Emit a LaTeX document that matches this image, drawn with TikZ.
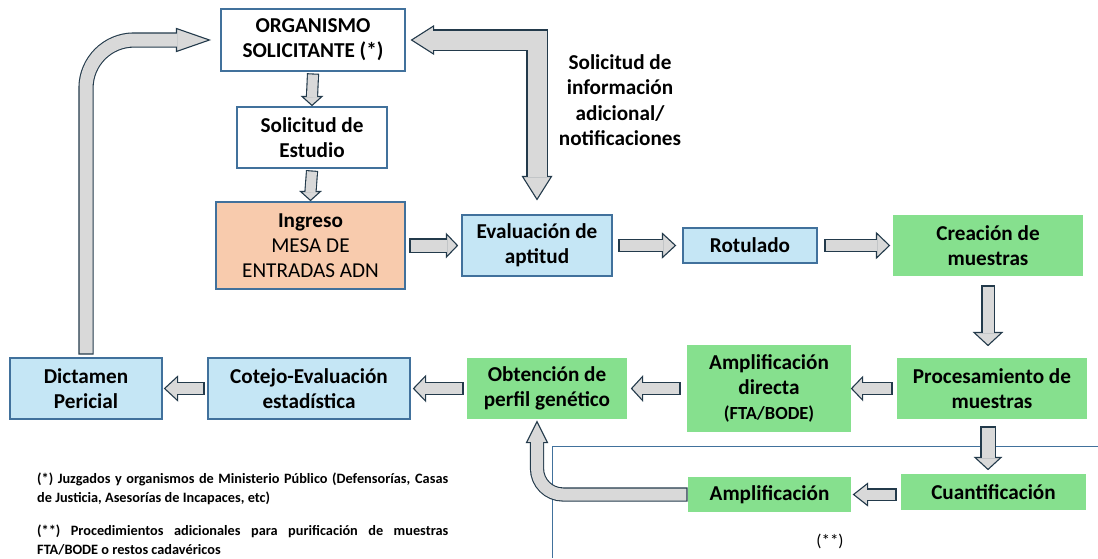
\documentclass[tikz,border=0pt]{standalone}
\usepackage{fontspec}
\setmainfont{Carlito}
\usetikzlibrary{calc}
\definecolor{bord}{RGB}{65,113,156}
\definecolor{lblue}{RGB}{197,230,245}
\definecolor{salmon}{RGB}{248,203,173}
\definecolor{grn}{RGB}{134,224,142}
\definecolor{agray}{RGB}{217,217,217}
\definecolor{adark}{RGB}{35,58,75}
\tikzset{
 box/.style={draw=bord, line width=1.1pt, align=center, inner sep=0pt, font=\fontsize{21.2}{25}\selectfont\bfseries, text=black},
 wbox/.style={box, fill=white},
 bbox/.style={box, fill=lblue},
 sbox/.style={box, fill=salmon},
 gbox/.style={box, draw=none, fill=grn},
 ahead/.style={fill=agray, draw=adark, line width=1.1pt, line join=miter},
 foot/.style={anchor=base west, inner sep=0pt, font=\fontsize{14.3}{19}\selectfont\bfseries},
}
\newcommand\barrow[5]{%
  \path (#1) coordinate (bat) (#2) coordinate (bah) (#3) coordinate (bap);
  \draw[adark, line width=#4pt+2.2pt, shorten <=-1.1pt] (bat) -- (bah);
  \draw[ahead] (bap) -- ($(bah)!#5pt!90:(bap)$) -- ($(bah)!#5pt!-90:(bap)$) -- cycle;
  \draw[agray, line width=#4pt, shorten >=-1pt] (bat) -- (bah);
}
\newcommand\carrow[7]{%
  \path (#1) coordinate (bat) (#2) coordinate (bac) (#3) coordinate (bah) (#4) coordinate (bap);
  \draw[adark, line width=#5pt+2.2pt, shorten <=-1.1pt, rounded corners=#7pt] (bat) -- (bac) -- (bah);
  \draw[ahead] (bap) -- ($(bah)!#6pt!90:(bap)$) -- ($(bah)!#6pt!-90:(bap)$) -- cycle;
  \draw[agray, line width=#5pt, shorten >=-1pt, rounded corners=#7pt] (bat) -- (bac) -- (bah);
}
\begin{document}
\begin{tikzpicture}[x=1pt, y=-1pt]
\useasboundingbox (0,0) rectangle (1098,558);
% (**) frame
\draw[bord, line width=1pt] (552,558) coordinate (fbl) -- (552,446) coordinate (ftl) -- (1098,446) coordinate (ftr);
\node at (830,541) (dstar) {\fontsize{17}{19}\selectfont (**)};

% boxes
\node[wbox, minimum width=184pt, minimum height=62pt] (org) at (313,40) {ORGANISMO\\SOLICITANTE (*)};
\node[wbox, minimum width=150pt, minimum height=61pt] (sol) at (312,137.5) {Solicitud de\\Estudio};
\node[sbox, minimum width=189pt, minimum height=87pt] (ing) at (310.5,245.5) {Ingreso\\\mdseries MESA DE\\\mdseries ENTRADAS ADN};
\node[bbox, minimum width=150pt, minimum height=61pt] (eval) at (537,245.5) {Evaluación de\\aptitud};
\node[bbox, minimum width=134pt, minimum height=35pt] (rot) at (750,245.5) {Rotulado};
\node[gbox, minimum width=190pt, minimum height=61pt] (crea) at (988,245.5) {Creación de\\muestras};
\node[gbox, minimum width=190pt, minimum height=61pt] (proc) at (992,388.5) {Procesamiento de\\muestras};
\node[gbox, minimum width=164pt, minimum height=87pt] (ampd) at (769,388.5) {Amplificación\\directa\\{\fontsize{18.5}{22}\selectfont (FTA/BODE)}};
\node[gbox, minimum width=160pt, minimum height=61pt] (obt) at (547,388.5) {Obtención de\\perfil genético};
\node[bbox, minimum width=202pt, minimum height=61pt] (cot) at (309,388.5) {Cotejo-Evaluación\\estadística};
\node[bbox, minimum width=152pt, minimum height=61pt] (dic) at (86,388.5) {Dictamen\\Pericial};
\node[gbox, minimum width=185pt, minimum height=36pt] (cuant) at (993.5,492) {Cuantificación};
\node[gbox, minimum width=163pt, minimum height=35pt] (amp) at (769.5,494.5) {Amplificación};

% label
\node[align=center, inner sep=0pt, font=\fontsize{21.2}{25.3}\selectfont\bfseries] (lbl) at (620,100) {Solicitud de\\información\\adicional/\\notificaciones};

% footnotes
\node[foot] (f1a) at (37,483) {\makebox[411pt][s]{(*) Juzgados y organismos de Ministerio Público (Defensorías, Casas}};
\node[foot] (f1b) at (37,502) {de Justicia, Asesorías de Incapaces, etc)};
\node[foot] (f2a) at (37,535) {\makebox[411pt][s]{(**) Procedimientos adicionales para purificación de muestras}};
\node[foot] (f2b) at (37,554) {FTA/BODE o restos cadavéricos};

% straight arrows
\barrow{$(org.south)+(0,3)$}{$(sol.north)+(0,-10)$}{$(sol.north)+(0,-1)$}{10}{10}
\barrow{$(sol.south)+(0,3)$}{$(ing.north)+(0,-10)$}{$(ing.north)+(0,-1)$}{10}{10}
\barrow{$(ing.east)+(5,0)$}{$(eval.west)+(-15,0)$}{$(eval.west)+(-4,0)$}{12}{11.5}
\barrow{$(eval.east)+(7,0)$}{$(rot.west)+(-20,0)$}{$(rot.west)+(-7,0)$}{11}{12}
\barrow{$(rot.east)+(8,0)$}{$(crea.west)+(-16,0)$}{$(crea.west)+(-3,0)$}{11}{12.5}
\barrow{$(crea.south)+(0,10)$}{$(crea.south|-proc.north)+(0,-25)$}{$(crea.south|-proc.north)+(0,-12)$}{11}{14}
\barrow{$(proc.west)+(-5,0)$}{$(ampd.east)+(11,0)$}{$(ampd.east)+(0,0)$}{11}{11.5}
\barrow{$(ampd.west)+(-7,0)$}{$(obt.east)+(15,0)$}{$(obt.east)+(4,0)$}{11}{12}
\barrow{$(obt.west)+(-4,0)$}{$(cot.east)+(15,0)$}{$(cot.east)+(3,0)$}{11}{12.5}
\barrow{$(cot.west)+(-4,0)$}{$(dic.east)+(15,0)$}{$(dic.east)+(2,0)$}{11}{12}
\barrow{$(crea.south|-proc.south)+(0,8)$}{$(crea.south|-cuant.north)+(0,-16)$}{$(crea.south|-cuant.north)+(0,-4)$}{13}{13}
\barrow{$(cuant.west|-amp.east)+(-5,0)$}{$(amp.east)+(16,0)$}{$(amp.east)+(2,0)$}{10}{11}

% curved arrows
\carrow{$(dic.north)+(0,-4)$}{dic.north|-org.west}{$(org.west)+(-44,0)$}{$(org.west)+(-11,0)$}{13}{11.5}{48}
\coordinate (upx) at ($(obt.south)+(-10,0)$);
\carrow{$(amp.west)+(-1,0)$}{upx|-amp.west}{$(upx)+(0,23)$}{$(upx)+(0,2)$}{12}{10.5}{26}

% double-headed L arrow
\path ($(eval.north)+(0,-38)$) coordinate (lb1) ($(eval.north)+(0,-15)$) coordinate (lt1)
      (eval.north|-org.east) coordinate (lc) ($(org.east)+(28,0)$) coordinate (lb2) ($(org.east)+(6,0)$) coordinate (lt2);
\draw[adark, line width=21.2pt, line join=miter] (lb1) -- (lc) -- (lb2);
\draw[ahead] (lt1) -- ($(lb1)!14.5pt!90:(lt1)$) -- ($(lb1)!14.5pt!-90:(lt1)$) -- cycle;
\draw[ahead] (lt2) -- ($(lb2)!14pt!90:(lt2)$) -- ($(lb2)!14pt!-90:(lt2)$) -- cycle;
\draw[agray, line width=19pt, line join=miter, shorten <=-1pt, shorten >=-1pt] (lb1) -- (lc) -- (lb2);
\end{tikzpicture}
\end{document}
